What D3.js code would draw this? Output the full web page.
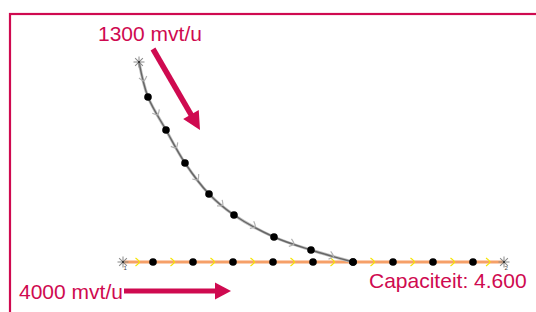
<!DOCTYPE html>
<html>
<head>
<meta charset="utf-8">
<script src="https://cdn.jsdelivr.net/npm/d3@7/dist/d3.min.js"></script>
<style>
  html, body { margin: 0; padding: 0; background: #fff; }
  svg { display: block; }
</style>
</head>
<body>
<svg id="chart" width="536" height="312"></svg>
<script>
// ---- data (grid units: 1 unit = one tenth of a station spacing) ----
const roadStartX = 0;          // main road start (station 1)
const roadEndX = 38.1;         // main road end (station 2)
const roadDotsX = [3, 7, 11, 15, 19, 23, 27, 31, 35];
const rampX = [1.6, 2.5, 4.3, 6.2, 8.6, 11.1, 15.1, 18.8, 23];
const rampY = [20, 16.5, 13.2, 9.9, 6.8, 4.7, 2.5, 1.2, 0];
const labelMain = "4000 mvt/u";
const labelRamp = "1300 mvt/u";
const labelCap = "Capaciteit: 4.600";
const stationLabels = ["1", "2"];

const W = 536, H = 312;
const crimson = "#cf0a50";
const svg = d3.select("#chart");

const x = d3.scaleLinear().domain([0, 38.1]).range([123, 504]);
const y = d3.scaleLinear().domain([0, 20]).range([262, 62]);

// frame
svg.append("rect")
  .attr("x", 10).attr("y", 14)
  .attr("width", W + 20).attr("height", H + 20)
  .attr("fill", "none").attr("stroke", crimson).attr("stroke-width", 2.2);

// main road
const roadPts = [[roadStartX, 0], ...roadDotsX.map(v => [v, 0]), [roadEndX, 0]];
svg.append("line")
  .attr("x1", x(roadStartX)).attr("x2", x(roadEndX))
  .attr("y1", y(0)).attr("y2", y(0))
  .attr("stroke", "#f6a068").attr("stroke-width", 3);

// ramp line
const rampPts = rampX.map((v, i) => [v, rampY[i]]);
const lineGen = d3.line().x(d => x(d[0])).y(d => y(d[1])).curve(d3.curveCatmullRom.alpha(0.5));
svg.append("path").attr("d", lineGen(rampPts))
  .attr("fill", "none").attr("stroke", "#c0c0c0").attr("stroke-width", 3);
svg.append("path").attr("d", lineGen(rampPts))
  .attr("fill", "none").attr("stroke", "#666").attr("stroke-width", 1.4);

// chevrons at segment midpoints
function chevrons(pts, color) {
  const g = svg.append("g");
  for (let i = 0; i < pts.length - 1; i++) {
    const x0 = x(pts[i][0]), y0 = y(pts[i][1]);
    const x1 = x(pts[i + 1][0]), y1 = y(pts[i + 1][1]);
    const mx = (x0 + x1) / 2, my = (y0 + y1) / 2;
    const ang = Math.atan2(y1 - y0, x1 - x0) * 180 / Math.PI;
    g.append("path")
      .attr("d", "M-2.5,-4 Q1.5,-1 1.5,0 Q1.5,1 -2.5,4")
      .attr("transform", `translate(${mx},${my}) rotate(${ang})`)
      .attr("fill", "none").attr("stroke", color).attr("stroke-width", 1.2);
  }
}
chevrons(roadPts, "#f5e400");
chevrons(rampPts, "#b0b0b0");

// dots
svg.append("g").selectAll("circle")
  .data(roadDotsX).join("circle")
  .attr("cx", d => x(d)).attr("cy", y(0)).attr("r", 3.8).attr("fill", "#000");
svg.append("g").selectAll("circle")
  .data(rampPts.slice(1)).join("circle")
  .attr("cx", d => x(d[0])).attr("cy", d => y(d[1])).attr("r", 3.8).attr("fill", "#000");

// star markers
function star(cx, cy, label) {
  const g = svg.append("g").attr("transform", `translate(${cx},${cy})`);
  [0, 45, 90, 135].forEach(a => {
    g.append("line").attr("x1", -5.5).attr("x2", 5.5).attr("y1", 0).attr("y2", 0)
      .attr("transform", `rotate(${a})`)
      .attr("stroke", "#888").attr("stroke-width", 1);
  });
  g.append("circle").attr("r", 1).attr("fill", "#222");
  if (label) {
    g.append("text").attr("x", 0.5).attr("y", 7.5).attr("font-size", 6)
      .attr("font-family", "Liberation Sans, Arial, sans-serif").attr("fill", "#444")
      .text(label);
  }
}
star(x(roadStartX), y(0), stationLabels[0]);
star(x(roadEndX), y(0), stationLabels[1]);
star(x(rampX[0]), y(rampY[0]), null);

// arrows
function arrow(x0, y0, x1, y1, w, headLen, headHalf) {
  const dx = x1 - x0, dy = y1 - y0, L = Math.hypot(dx, dy);
  const ang = Math.atan2(dy, dx) * 180 / Math.PI;
  const g = svg.append("g").attr("transform", `translate(${x0},${y0}) rotate(${ang})`);
  g.append("rect").attr("x", 0).attr("y", -w / 2).attr("width", L - headLen + 1).attr("height", w)
    .attr("fill", crimson);
  g.append("path").attr("d", `M${L - headLen},${-headHalf} L${L},0 L${L - headLen},${headHalf} Z`)
    .attr("fill", crimson);
}
arrow(153, 49, 200, 130, 5.5, 18, 9);
arrow(124, 291, 231, 291, 5, 16, 8.5);

// texts
const font = "Liberation Sans, Arial, Helvetica, sans-serif";
svg.append("text").attr("x", 98).attr("y", 41).attr("font-size", 21)
  .attr("font-family", font).attr("fill", crimson).text(labelRamp);
svg.append("text").attr("x", 19).attr("y", 299).attr("font-size", 21)
  .attr("font-family", font).attr("fill", crimson).text(labelMain);
svg.append("text").attr("x", 369).attr("y", 288).attr("font-size", 21)
  .attr("font-family", font).attr("fill", crimson).text(labelCap);
</script>
</body>
</html>
